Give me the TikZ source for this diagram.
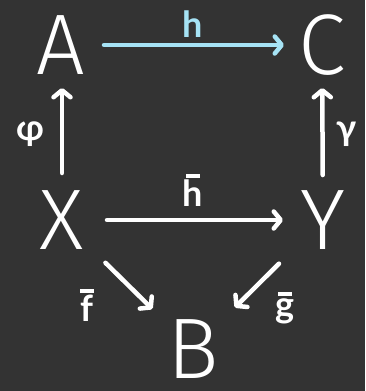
\documentclass[tikz,border=0pt]{standalone}
\usepackage{fontspec}
\setmainfont{Lato}
\newfontfamily\bigfont{Fira Sans Light}
\usetikzlibrary{arrows.meta}
\definecolor{bgc}{HTML}{333333}
\definecolor{hblue}{HTML}{A6E3F5}
\newcommand\barlbl[1]{\shortstack[c]{\rule{14pt}{4pt}\\[-1pt]#1}}
\begin{document}
\begin{tikzpicture}[x=1pt,y=-1pt,
 obj/.style={inner sep=0pt,text=white,font=\fontsize{86}{86}\bigfont},
 lbl/.style={inner sep=0pt,text=white,font=\fontsize{36}{36}\selectfont\bfseries},
 arr/.style={draw=white,line width=4.5pt,line cap=round,-{Straight Barb[length=7pt,width=17pt,round]}}]
\fill[bgc] (0,0) rectangle (365,391);
\node[obj] (A) at (61,45) {A};
\node[obj] (C) at (322,45) {C};
\node[obj] (X) at (62,220) {X};
\node[obj] (Y) at (323,220) {Y};
\node[obj] (B) at (193,349) {B};
\draw[arr,draw=hblue,shorten <=43pt,shorten >=38pt] (A.center) -- (C.center);
\draw[arr,shorten <=47pt,shorten >=43pt] (X.center |- 0,220) -- (X.center |- 0,45);
\draw[arr,shorten <=45pt,shorten >=43pt] (Y.center) -- (C.center |- 0,45);
\draw[arr,shorten <=45pt,shorten >=40pt] (X.center) -- (Y.center);
\draw[arr,shorten <=61pt,shorten >=57pt] (X.center) -- (B.center);
\draw[arr,shorten <=62pt,shorten >=59pt] (Y.center) -- (B.center);
\node[lbl,text=hblue] (lh) at (193,24) {h};
\node[lbl] (lhb) at (193,190) {\barlbl{h}};
\node[lbl] (lphi) at (30,134) {φ};
\node[lbl] (lgam) at (347,134) {γ};
\node[lbl] (lf) at (87,305) {\barlbl{f}};
\node[lbl] (lg) at (285,308) {\barlbl{g}};
\end{tikzpicture}
\end{document}
